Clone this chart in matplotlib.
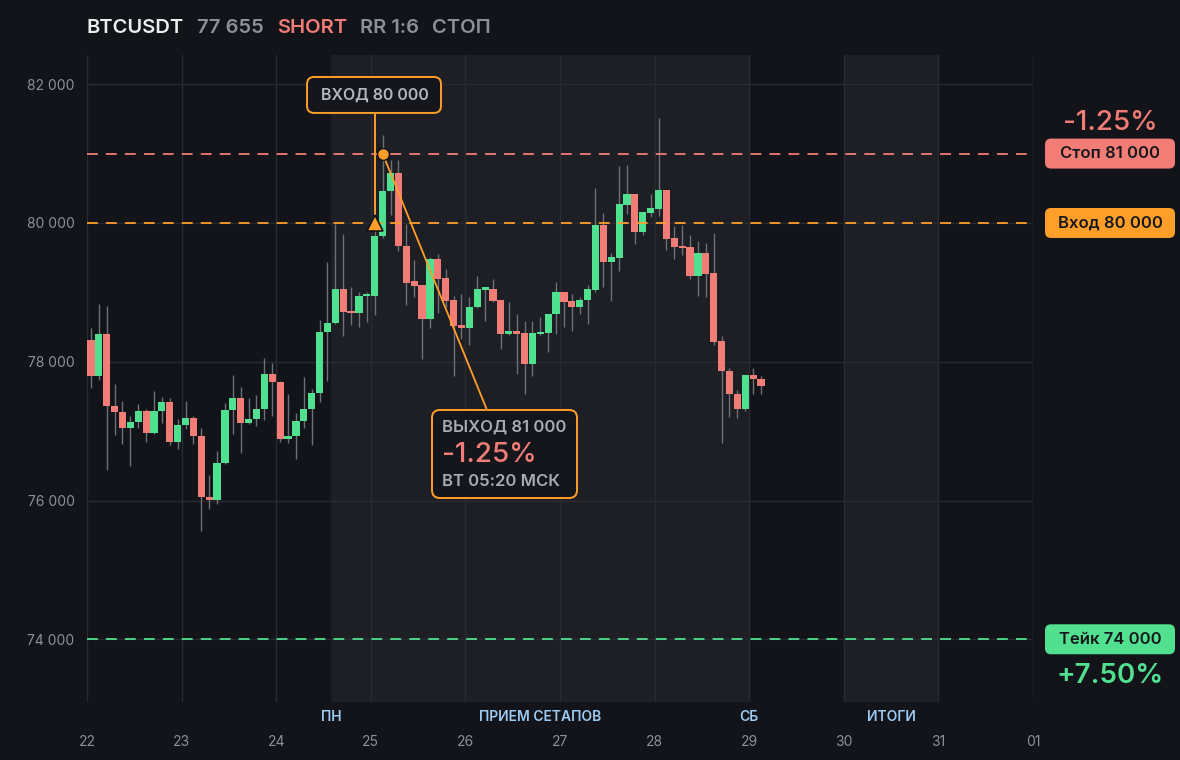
import matplotlib.pyplot as plt
import matplotlib.transforms as mtransforms
from matplotlib.patches import FancyBboxPatch

plt.rcParams['font.family'] = ['Inter', 'DejaVu Sans']

BG = '#131419'
SHADE = '#1e1f25'
GRID = '#2a2b31'
GREEN = '#50e090'
RED = '#f27c76'
ORANGE = '#ff9f2a'
WICK = '#6e7078'
GRAY = '#8d9099'
LABEL = '#b4b7bf'
BLUE = '#9ccbf4'

# 2h candles from the 22nd
opens = [78307, 77794, 78394, 77361, 77275, 77045, 77126, 77285, 76973, 77285,
         77414, 76843, 77083, 77184, 76930, 76051, 76003, 76536, 77299, 77472,
         77117, 77170, 77314, 77818, 77702, 76886, 76925, 77141, 77314, 77544,
         78422, 78560, 79055, 78713, 78699, 78949, 78945, 79812, 80458, 80718,
         79667, 79157, 79099, 78612, 79475, 79200, 78887, 78525, 78482, 78786,
         79041, 79055, 78887, 78395, 78438, 78410, 77962, 78395, 78410, 78684,
         79002, 78872, 78786, 78887, 79031, 79966, 79436, 79494, 80260, 80414,
         79870, 80145, 80202, 80472, 79778, 79667, 79648, 79234, 79561, 79272,
         78294, 77870, 77537, 77325, 77812, 77754]
highs = [78480, 78826, 78797, 77674, 77429, 77213, 77386, 77314, 77573, 77486,
         77472, 77170, 77429, 77213, 77045, 76363, 76709, 77400, 77803, 77630,
         77472, 77515, 78048, 77976, 77717, 77530, 77256, 77774, 77602, 78595,
         79440, 79990, 79846, 79084, 79000, 79000, 79990, 81272, 80906, 80906,
         79990, 79460, 79099, 79508, 79552, 79330, 78944, 78978, 78930, 79234,
         79055, 79186, 78887, 78858, 78690, 78583, 78593, 78641, 78690, 79147,
         79002, 78974, 78930, 79100, 80501, 80140, 79561, 80819, 80834, 80414,
         80154, 80414, 81513, 80472, 79952, 79966, 79822, 79735, 79706, 79850,
         78376, 77914, 77595, 77812, 77914, 77797]
lows = [77621, 77736, 76440, 76944, 76814, 76498, 77045, 76843, 76958, 77117,
        76800, 76742, 77030, 76814, 75560, 75878, 75950, 76520, 76958, 76685,
        77098, 77074, 77160, 77218, 76843, 76829, 76598, 77045, 76800, 77419,
        77722, 78540, 78366, 78525, 78496, 78569, 78670, 79780, 80111, 79600,
        78824, 78930, 78034, 78482, 78699, 78785, 77788, 78323, 78236, 78771,
        78583, 78860, 78178, 78380, 77822, 77542, 77788, 78390, 78135, 78400,
        78496, 78448, 78690, 78545, 79002, 79075, 78872, 79306, 80125, 79696,
        79827, 80087, 80101, 79610, 79480, 79537, 79190, 78945, 78930, 78236,
        76829, 77210, 77195, 77296, 77542, 77528]
closes = [77794, 78394, 77361, 77275, 77045, 77126, 77285, 76973, 77285, 77414,
          76843, 77083, 77184, 76930, 76051, 76003, 76536, 77299, 77472, 77117,
          77170, 77314, 77818, 77702, 76886, 76925, 77141, 77314, 77544, 78422,
          78560, 79055, 78713, 78699, 78949, 78960, 79812, 80458, 80718, 79667,
          79142, 79089, 78612, 79475, 79186, 78872, 78511, 78482, 78786, 79055,
          79055, 78872, 78395, 78438, 78395, 77962, 78410, 78424, 78684, 79002,
          78858, 78786, 78887, 79046, 79966, 79436, 79504, 80270, 80414, 79870,
          80154, 80212, 80472, 79769, 79653, 79639, 79234, 79561, 79263, 78280,
          77860, 77528, 77325, 77812, 77745, 77655]

day_ticks = [22, 23, 24, 25, 26, 27, 28, 29, 30, 31, 32]
day_labels = ['22', '23', '24', '25', '26', '27', '28', '29', '30', '31', '01']
price_ticks = [74000, 76000, 78000, 80000, 82000]
price_labels = ['74 000', '76 000', '78 000', '80 000', '82 000']

entry_price = 80000
stop_price = 81000
take_price = 74000
entry_idx = 36
exit_idx = 37

sections = [(24.583, 'ПН'), (26.79, 'ПРИЕМ СЕТАПОВ'), (29, 'СБ'), (30.5, 'ИТОГИ')]
shaded = [(24.583, 29), (30, 31)]

YMIN, YMAX = 73096, 82421
PX_DAY = 94.6
PX_PRICE = (YMAX - YMIN) / 647.0
ASPECT = PX_PRICE * PX_DAY

fig = plt.figure(figsize=(11.8, 7.6), dpi=100, facecolor=BG)
ax = fig.add_axes([87 / 1180, 58 / 760, 946 / 1180, 647 / 760])
ax.set_facecolor(BG)
ax.set_xlim(22, 32)
ax.set_ylim(YMIN, YMAX)

for a, b in shaded:
    ax.axvspan(a, b, color=SHADE, lw=0, zorder=0)

ax.set_xticks(day_ticks)
ax.set_xticklabels(day_labels)
ax.set_yticks(price_ticks)
ax.set_yticklabels(price_labels)
ax.grid(True, color=GRID, lw=1.0, zorder=1)
ax.tick_params(axis='both', length=0, colors=GRAY, labelsize=10)
ax.tick_params(axis='x', pad=24)
ax.tick_params(axis='y', pad=9)
for s in ax.spines.values():
    s.set_visible(False)

trans = mtransforms.blended_transform_factory(ax.transData, ax.transAxes)
for xs, name in sections:
    ax.text(xs, -15 / 647, name, transform=trans, ha='center', va='center',
            color=BLUE, fontsize=10, fontweight='semibold')

# candles
xs = [22 + (i + 0.5) / 12 for i in range(len(opens))]
bottoms = [min(o, c) for o, c in zip(opens, closes)]
heights = [max(abs(c - o), 30) for o, c in zip(opens, closes)]
colors = [GREEN if c >= o else RED for o, c in zip(opens, closes)]
ax.vlines(xs, lows, highs, color=WICK, lw=1.0, zorder=2)
ax.bar(xs, heights, bottom=bottoms, width=0.076, color=colors, lw=0, zorder=3)

# levels
ax.axhline(stop_price, color=RED, lw=1.3, ls=(0, (6, 4.5)), zorder=4)
ax.axhline(entry_price, color=ORANGE, lw=1.3, ls=(0, (6, 4.5)), zorder=4)
ax.axhline(take_price, color=GREEN, lw=1.3, ls=(0, (6, 4.5)), zorder=4)


def box(x0, x1, y0, y1, fc, ec, r=6, lw=0):
    p = FancyBboxPatch((x0, y0), x1 - x0, y1 - y0,
                       boxstyle='round,pad=0,rounding_size=%f' % (r / PX_DAY),
                       mutation_aspect=ASPECT, fc=fc, ec=ec, lw=lw,
                       transform=ax.transData, clip_on=False, zorder=8)
    ax.add_patch(p)


# entry marker and callout
ex = xs[entry_idx]
ax.plot([ex, ex], [81586, entry_price + 60], color=ORANGE, lw=1.4, zorder=6)
ax.plot(ex, entry_price, marker='^', ms=12, mfc=ORANGE, mec=BG, mew=1.2, zorder=7)
box(24.326, 25.742, 81586, 82104, '#15161b', ORANGE, r=7, lw=1.4)
ax.text(ex, 81845, 'ВХОД 80 000', ha='center', va='center', color=LABEL,
        fontsize=11.5, fontweight='semibold', zorder=9)

# exit marker and callout
xx = xs[exit_idx]
ax.plot([xx, 26.228], [stop_price, 77305], color=ORANGE, lw=1.3, zorder=6)
ax.plot(xx, stop_price, marker='o', ms=8.5, mfc=ORANGE, mec=BG, mew=1.0, zorder=7)
box(25.647, 27.180, 76036, 77305, '#15161b', ORANGE, r=8, lw=1.4)
ax.text(25.753, 77060, 'ВЫХОД 81 000', ha='left', va='center', color='#a9acb4',
        fontsize=12, fontweight='semibold', zorder=9)
ax.text(25.753, 76650, '-1.25%', ha='left', va='center', color=RED,
        fontsize=20, fontweight='medium', zorder=9)
ax.text(25.753, 76267, 'ВТ 05:20 МСК', ha='left', va='center', color='#a9acb4',
        fontsize=12, fontweight='semibold', zorder=9)

# right side price tags
tags = [(stop_price, 'Стоп 81 000', RED), (entry_price, 'Вход 80 000', ORANGE),
        (take_price, 'Тейк 74 000', GREEN)]
for price, txt, col in tags:
    box(32.127, 33.501, price - 216, price + 216, col, col, r=6)
    ax.text(32.814, price, txt, ha='center', va='center', color='#16171b',
            fontsize=12, fontweight='semibold', zorder=9, clip_on=False)
ax.text(32.814, 81440, '-1.25%', ha='center', va='center', color=RED,
        fontsize=20, fontweight='medium', clip_on=False)
ax.text(32.814, 73470, '+7.50%', ha='center', va='center', color=GREEN,
        fontsize=20, fontweight='semibold', clip_on=False)

# header
head = [(87, 'BTCUSDT', '#eceef2'), (197, '77 655', GRAY), (277, 'SHORT', RED),
        (360, 'RR 1:6', GRAY), (432, 'СТОП', GRAY)]
for px, txt, col in head:
    fig.text(px / 1180, 1 - 28 / 760, txt, ha='left', va='center', color=col,
             fontsize=14.5, fontweight='semibold')

fig.savefig('out.png', dpi=100, facecolor=BG)
